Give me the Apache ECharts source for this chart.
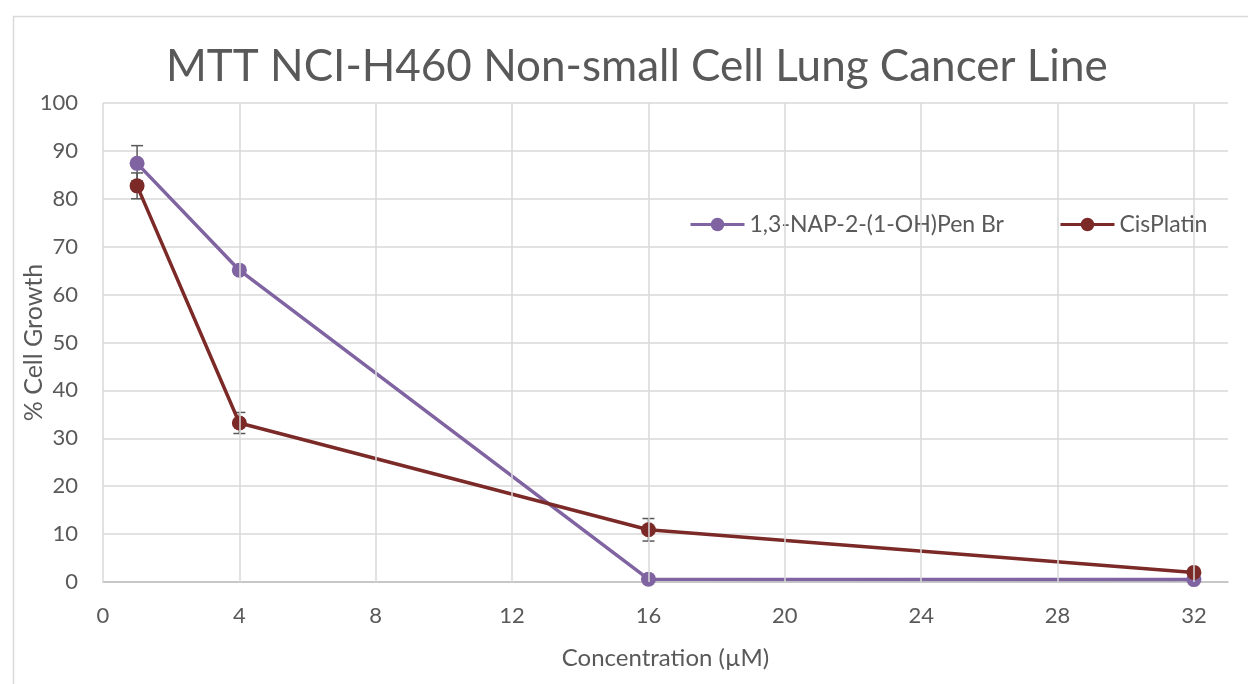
<!DOCTYPE html>
<html>
<head>
<meta charset="utf-8">
<script src="https://cdn.jsdelivr.net/npm/echarts@6/dist/echarts.min.js"></script>
<style>html,body{margin:0;padding:0;background:#fff;}#c{width:1248px;height:684px;}</style>
</head>
<body>
<div id="c"></div>
<script>
var concentrations = [1, 4, 16, 32];
var napValues = [87.4, 65.1, 0.6, 0.5];
var napErrors = [3.7, 0.8, 0.3, 0.3];
var cisValues = [82.7, 33.2, 10.9, 2.0];
var cisErrors = [2.7, 2.2, 2.35, 0.3];
var xTicks = [0, 4, 8, 12, 16, 20, 24, 28, 32];
var yTicks = [0, 10, 20, 30, 40, 50, 60, 70, 80, 90, 100];

var FONT = 'Lato';
var TXT = '#595959';
var PURPLE = '#8064a2';
var RED = '#7b2a28';
var GRIDC = '#d9d9d9';

function errData(vals, errs) {
  return concentrations.map(function (x, i) { return [x, vals[i] - errs[i], vals[i] + errs[i]]; });
}
function errRender(params, api) {
  var x = api.value(0);
  var lo = api.coord([x, api.value(1)]);
  var hi = api.coord([x, api.value(2)]);
  var w = 6;
  var st = { stroke: '#595959', lineWidth: 1.5 };
  return {
    type: 'group',
    children: [
      { type: 'line', shape: { x1: lo[0], y1: lo[1], x2: hi[0], y2: hi[1] }, style: st },
      { type: 'line', shape: { x1: lo[0] - w, y1: lo[1], x2: lo[0] + w, y2: lo[1] }, style: st },
      { type: 'line', shape: { x1: hi[0] - w, y1: hi[1], x2: hi[0] + w, y2: hi[1] }, style: st }
    ]
  };
}

var chart = echarts.init(document.getElementById('c'));
chart.setOption({
  animation: false,
  backgroundColor: '#fff',
  textStyle: { fontFamily: FONT },
  graphic: [{
    type: 'rect', left: 11, top: 14, z: -10,
    shape: { x: 0, y: 0, width: 1260, height: 700 },
    style: { fill: 'none', stroke: '#d9d9d9', lineWidth: 1.5 }
  }],
  title: {
    text: 'MTT NCI-H460 Non-small Cell Lung Cancer Line',
    left: 161, top: 40,
    textStyle: { fontFamily: FONT, fontSize: 44, fontWeight: 'normal', color: TXT }
  },
  legend: {
    left: 684, top: 208,
    itemWidth: 54, itemHeight: 17, itemGap: 55,
    lineStyle: { width: 3 },
    textStyle: { fontFamily: FONT, fontSize: 23, color: TXT },
    data: ['1,3-NAP-2-(1-OH)Pen Br', 'CisPlatin']
  },
  grid: { left: 103, right: 20, top: 103, bottom: 102, containLabel: false, outerBoundsMode: 'none' },
  xAxis: {
    type: 'value', min: 0, max: 33, interval: 4,
    name: 'Concentration (µM)', nameLocation: 'middle', nameGap: 64, nameMoveOverlap: false,
    nameTextStyle: { fontFamily: FONT, fontSize: 24, color: TXT },
    axisLine: { show: true, lineStyle: { color: '#bfbfbf', width: 1.5 } },
    axisTick: { show: false },
    axisLabel: {
      fontFamily: FONT, fontSize: 22, color: TXT, margin: 23, showMaxLabel: false,
      formatter: function (v) { return xTicks.indexOf(v) >= 0 ? String(v) : ''; }
    },
    splitLine: { show: false }
  },
  yAxis: {
    type: 'value', min: 0, max: 100, interval: 10,
    name: '% Cell Growth', nameLocation: 'middle', nameGap: 57, nameRotate: 90, nameMoveOverlap: false,
    nameTextStyle: { fontFamily: FONT, fontSize: 25, color: TXT },
    axisLine: { show: false },
    axisTick: { show: false },
    axisLabel: {
      fontFamily: FONT, fontSize: 22, color: TXT, margin: 25,
      formatter: function (v) { return yTicks.indexOf(v) >= 0 ? String(v) : ''; }
    },
    splitLine: { show: true, lineStyle: { color: GRIDC, width: 1.5 } }
  },
  series: [
    {
      type: 'custom', name: 'napErr', renderItem: errRender, z: 1,
      data: errData(napValues, napErrors), encode: { x: 0, y: [1, 2] }, silent: true,
      markLine: {
        silent: true, symbol: 'none', animation: false,
        label: { show: false },
        lineStyle: { color: GRIDC, width: 1.5, type: 'solid' },
        emphasis: { disabled: true },
        data: xTicks.map(function (v) { return { xAxis: v }; })
      }
    },
    {
      type: 'custom', name: 'cisErr', renderItem: errRender, z: 2,
      data: errData(cisValues, cisErrors), encode: { x: 0, y: [1, 2] }, silent: true
    },
    {
      type: 'line', name: '1,3-NAP-2-(1-OH)Pen Br', z: 3,
      data: concentrations.map(function (x, i) { return [x, napValues[i]]; }),
      symbol: 'circle', symbolSize: 15,
      lineStyle: { color: PURPLE, width: 3.5 },
      itemStyle: { color: PURPLE }
    },
    {
      type: 'line', name: 'CisPlatin', z: 4,
      data: concentrations.map(function (x, i) { return [x, cisValues[i]]; }),
      symbol: 'circle', symbolSize: 15,
      lineStyle: { color: RED, width: 3.5 },
      itemStyle: { color: RED }
    }
  ]
});
</script>
</body>
</html>
